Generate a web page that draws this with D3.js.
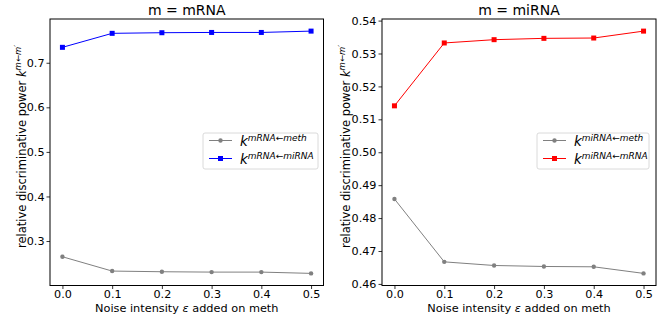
<!DOCTYPE html>
<html><head><meta charset="utf-8">
<script src="https://cdn.jsdelivr.net/npm/d3@7"></script>
<style>body{margin:0;background:#fff}svg{display:block;font-family:"DejaVu Sans",sans-serif}</style>
</head><body>
<svg id="chart" width="672" height="320"></svg>
<script>
const noise = [0.0, 0.1, 0.2, 0.3, 0.4, 0.5];
const xTicks = [0.0, 0.1, 0.2, 0.3, 0.4, 0.5];
const mrnaFromMeth = [0.2647, 0.2326, 0.2311, 0.2303, 0.2303, 0.2274];
const mrnaFromMirna = [0.7346, 0.7660, 0.7674, 0.7680, 0.7680, 0.7710];
const mirnaFromMeth = [0.4858, 0.4667, 0.4656, 0.4653, 0.4652, 0.4632];
const mirnaFromMrna = [0.5141, 0.5332, 0.5342, 0.5346, 0.5347, 0.5368];
const leftYTicks = [0.3, 0.4, 0.5, 0.6, 0.7];
const rightYTicks = [0.46, 0.47, 0.48, 0.49, 0.50, 0.51, 0.52, 0.53, 0.54];

const svg = d3.select("#chart");

function panel(opt) {
  const g = svg.append("g");
  const x = d3.scaleLinear().domain([-0.025, 0.525]).range([opt.x0, opt.x1]);
  const all = opt.series.flatMap(s => s.values);
  const lo = d3.min(all), hi = d3.max(all), pad = (hi - lo) * 0.05;
  const y = d3.scaleLinear().domain([lo - pad, hi + pad]).range([opt.y1, opt.y0]);

  const xa = g.append("g").attr("transform", `translate(0,${opt.y1})`)
    .call(d3.axisBottom(x).tickValues(xTicks).tickFormat(d3.format(".1f")).tickSizeOuter(0).tickSize(3.5).tickPadding(1.5));
  const ya = g.append("g").attr("transform", `translate(${opt.x0},0)`)
    .call(d3.axisLeft(y).tickValues(opt.yTicks).tickFormat(d3.format(opt.yFmt)).tickSizeOuter(0).tickSize(3.5).tickPadding(2));
  [xa, ya].forEach(a => {
    a.select(".domain").remove();
    a.selectAll("text").attr("font-size", 11.2).attr("fill", "#000").attr("font-family", "DejaVu Sans");
    a.selectAll("line").attr("stroke", "#000").attr("stroke-width", 0.8);
  });

  // series
  opt.series.forEach(s => {
    const line = d3.line().x((d, i) => x(noise[i])).y(d => y(d));
    g.append("path").datum(s.values).attr("d", line).attr("fill", "none")
      .attr("stroke", s.color).attr("stroke-width", 1);
    if (s.marker === "o") {
      g.selectAll(null).data(s.values).enter().append("circle")
        .attr("cx", (d, i) => x(noise[i])).attr("cy", d => y(d)).attr("r", 2.2).attr("fill", s.color);
    } else {
      g.selectAll(null).data(s.values).enter().append("rect")
        .attr("x", (d, i) => x(noise[i]) - 2.5).attr("y", d => y(d) - 2.5)
        .attr("width", 5).attr("height", 5).attr("fill", s.color);
    }
  });

  // frame
  g.append("rect").attr("x", opt.x0).attr("y", opt.y0).attr("width", opt.x1 - opt.x0)
    .attr("height", opt.y1 - opt.y0).attr("fill", "none").attr("stroke", "#000").attr("stroke-width", 1);

  // title
  g.append("text").attr("x", (opt.x0 + opt.x1) / 2).attr("y", 15).attr("text-anchor", "middle")
    .attr("font-size", 14).text(opt.title);

  // x label
  const xl = g.append("text").attr("x", (opt.x0 + opt.x1) / 2).attr("y", 311.5).attr("text-anchor", "middle")
    .attr("font-size", 11.3);
  xl.append("tspan").text("Noise intensity ");
  xl.append("tspan").attr("font-style", "italic").text("ε");
  xl.append("tspan").text(" added on meth");

  // y label
  const yl = g.append("text").attr("transform", `translate(${opt.ylx},248) rotate(-90)`)
    .attr("text-anchor", "start").attr("font-size", 11.5);
  yl.append("tspan").text("relative discriminative power ");
  yl.append("tspan").attr("font-style", "italic").text("k");
  yl.append("tspan").attr("font-style", "italic").attr("font-size", 8.5).attr("dy", -5).text("m←m′");

  // legend
  const L = opt.legend;
  g.append("rect").attr("x", L.x).attr("y", L.y).attr("width", L.w).attr("height", 36)
    .attr("rx", 2).attr("fill", "#fff").attr("fill-opacity", 0.8).attr("stroke", "#d0d0d0").attr("stroke-width", 0.8);
  opt.series.forEach((s, i) => {
    const cy = L.y + 7.5 + i * 18;
    g.append("line").attr("x1", L.x + 6).attr("x2", L.x + 29).attr("y1", cy).attr("y2", cy)
      .attr("stroke", s.color).attr("stroke-width", 1);
    if (s.marker === "o") g.append("circle").attr("cx", L.x + 17.5).attr("cy", cy).attr("r", 2.2).attr("fill", s.color);
    else g.append("rect").attr("x", L.x + 15).attr("y", cy - 2.5).attr("width", 5).attr("height", 5).attr("fill", s.color);
    const t = g.append("text").attr("x", L.x + 37).attr("y", cy + 5.5).attr("font-size", 13.5).attr("font-style", "italic");
    t.append("tspan").text("k");
    t.append("tspan").attr("font-size", 9).attr("dy", -5.5).text(s.label);
  });
}

panel({
  x0: 50, x1: 323.5, y0: 19, y1: 285.5, title: "m = mRNA", ylx: 26,
  yTicks: leftYTicks, yFmt: ".1f",
  legend: { x: 203, y: 133, w: 115 },
  series: [
    { values: mrnaFromMeth, color: "gray", marker: "o", label: "mRNA←meth" },
    { values: mrnaFromMirna, color: "blue", marker: "s", label: "mRNA←miRNA" }
  ]
});
panel({
  x0: 382, x1: 656, y0: 19, y1: 285.5, title: "m = miRNA", ylx: 349.5,
  yTicks: rightYTicks, yFmt: ".2f",
  legend: { x: 537, y: 133, w: 112 },
  series: [
    { values: mirnaFromMeth, color: "gray", marker: "o", label: "miRNA←meth" },
    { values: mirnaFromMrna, color: "red", marker: "s", label: "miRNA←mRNA" }
  ]
});
</script>
</body></html>
